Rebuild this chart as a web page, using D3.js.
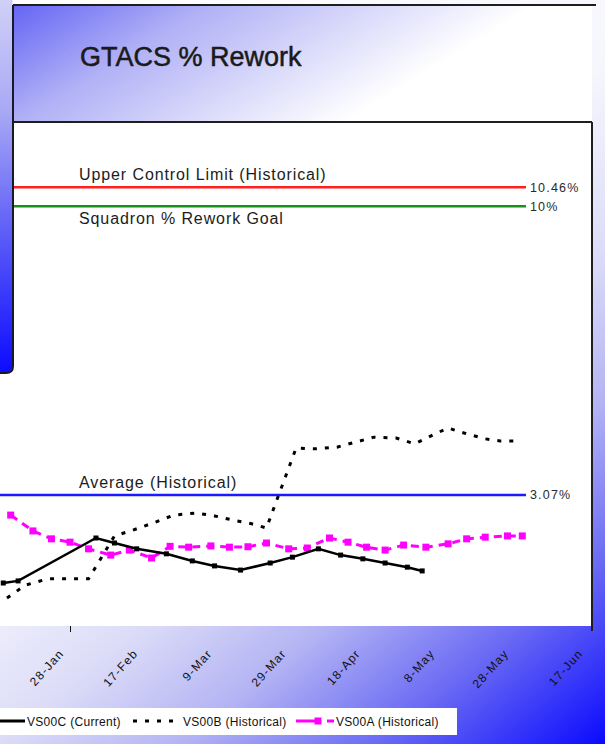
<!DOCTYPE html>
<html>
<head>
<meta charset="utf-8">
<script src="https://cdn.jsdelivr.net/npm/d3@7"></script>
<style>
  html, body { margin: 0; padding: 0; background: #fff; }
  svg { display: block; }
  text { font-family: "Liberation Sans", Arial, sans-serif; }
</style>
</head>
<body>
<svg id="chart" width="605" height="744"></svg>
<script>
// ---- data ----
const titleText = "GTACS % Rework";

const tickDates  = ["2003-01-28","2003-02-17","2003-03-09","2003-03-29","2003-04-18","2003-05-08","2003-05-28","2003-06-17"];
const tickLabels = ["28-Jan","17-Feb","9-Mar","29-Mar","18-Apr","8-May","28-May","17-Jun"];

const seriesNames = ["VS00C (Current)", "VS00B (Historical)", "VS00A (Historical)"];

const currentDates  = ["2003-01-10","2003-01-14","2003-02-04","2003-02-09","2003-02-15","2003-02-23","2003-03-02","2003-03-08","2003-03-15","2003-03-23","2003-03-29","2003-04-05","2003-04-11","2003-04-17","2003-04-23","2003-04-29","2003-05-03"];
const currentValues = [0.96,1.01,2.04,1.92,1.78,1.66,1.49,1.37,1.27,1.44,1.58,1.78,1.63,1.54,1.44,1.34,1.25];

const histBDates  = ["2003-01-11","2003-01-16","2003-01-22","2003-01-27","2003-02-02","2003-02-09","2003-02-14","2003-02-20","2003-02-25","2003-03-03","2003-03-08","2003-03-13","2003-03-18","2003-03-22","2003-03-30","2003-04-04","2003-04-10","2003-04-15","2003-04-20","2003-04-26","2003-05-01","2003-05-07","2003-05-10","2003-05-15","2003-05-20","2003-05-24","2003-05-28"];
const histBValues = [0.60,0.91,1.06,1.06,1.06,2.09,2.23,2.42,2.59,2.64,2.57,2.47,2.38,2.28,4.20,4.18,4.22,4.34,4.46,4.44,4.30,4.56,4.68,4.54,4.42,4.37,4.37];

const histADates  = ["2003-01-12","2003-01-18","2003-01-23","2003-01-28","2003-02-02","2003-02-08","2003-02-13","2003-02-19","2003-02-24","2003-03-01","2003-03-07","2003-03-12","2003-03-17","2003-03-22","2003-03-28","2003-04-02","2003-04-08","2003-04-13","2003-04-18","2003-04-23","2003-04-28","2003-05-04","2003-05-10","2003-05-15","2003-05-20","2003-05-26","2003-05-30"];
const histAValues = [2.59,2.21,2.02,1.94,1.78,1.63,1.75,1.56,1.84,1.82,1.85,1.82,1.83,1.92,1.78,1.80,2.04,1.94,1.82,1.75,1.87,1.82,1.90,2.02,2.06,2.09,2.09];

const refNames  = ["Upper Control Limit (Historical)", "Squadron % Rework Goal", "Average (Historical)"];
const refValues = [10.46, 10, 3.07];
const refLabels = ["10.46%", "10%", "3.07%"];
const refColors = ["#ff2020", "#149414", "#1a1aff"];
const refSpan   = ["2003-01-06", "2003-05-31"];

// ---- setup ----
const parse = d3.utcParse("%Y-%m-%d");
const svg = d3.select("#chart");
const defs = svg.append("defs");

const x = d3.scaleUtc().domain([parse(tickDates[0]), parse(tickDates[tickDates.length - 1])]).range([70, 589]);
const y = d3.scaleLinear().domain([0, 12]).range([623, 123]);

// gradients
function linGrad(id, attrs, stops) {
  const g = defs.append("linearGradient").attr("id", id).attr("gradientUnits", "userSpaceOnUse");
  Object.entries(attrs).forEach(([k, v]) => g.attr(k, v));
  stops.forEach(([o, c]) => g.append("stop").attr("offset", o).attr("stop-color", c));
}
linGrad("bgGrad", {x1: 0, y1: 0, x2: 605, y2: 744},
  [[0, "#ffffff"], [0.45, "#f6f6fd"], [0.6, "#dcdcf8"], [0.72, "#b4b4f4"], [0.85, "#6a6af4"], [1, "#0a0aff"]]);
linGrad("titleGrad", {x1: 13, y1: 5, x2: 156, y2: 238},
  [[0, "#6565f5"], [0.37, "#b0b0f6"], [1, "#ffffff"]]);
linGrad("stripGrad", {x1: 0, y1: 0, x2: 0, y2: 372},
  [[0, "#d0d0f8"], [0.3, "#a8a8f6"], [0.65, "#5858f8"], [1, "#0c0cff"]]);

// page background
svg.append("rect").attr("width", 605).attr("height", 744).attr("fill", "url(#bgGrad)");

// plot panel
svg.append("rect").attr("x", 0).attr("y", 122).attr("width", 592).attr("height", 504).attr("fill", "#ffffff");

// title panel
svg.append("rect").attr("x", 13).attr("y", 5).attr("width", 579).attr("height", 117).attr("fill", "url(#titleGrad)");
svg.append("text").attr("x", 80).attr("y", 66)
  .attr("font-size", 27).attr("fill", "#1a1a1a")
  .attr("stroke", "#1a1a1a").attr("stroke-width", 0.5)
  .text(titleText);

const frame = svg.append("g").attr("stroke", "#1e1e1e").attr("fill", "none");
frame.append("line").attr("x1", 13).attr("x2", 596).attr("y1", 5).attr("y2", 5).attr("stroke-width", 2);
frame.append("line").attr("x1", 13).attr("x2", 592).attr("y1", 122).attr("y2", 122).attr("stroke-width", 2);
frame.append("line").attr("x1", 592).attr("x2", 592).attr("y1", 122).attr("y2", 631).attr("stroke-width", 2);

// reference lines
const refG = svg.append("g");
refValues.forEach((v, i) => {
  refG.append("line")
    .attr("x1", x(parse(refSpan[0]))).attr("x2", x(parse(refSpan[1])))
    .attr("y1", y(v)).attr("y2", y(v))
    .attr("stroke", refColors[i]).attr("stroke-width", 2.5);
  refG.append("text")
    .attr("x", x(parse(refSpan[1])) + 4).attr("y", y(v)).attr("dy", "0.35em")
    .attr("font-size", 12.5).attr("letter-spacing", 1.2).attr("fill", "#2a2a2a")
    .text(refLabels[i]);
});
const refNameOffsets = [-7, 18, -7];
refNames.forEach((n, i) => {
  refG.append("text")
    .attr("x", 79).attr("y", y(refValues[i]) + refNameOffsets[i])
    .attr("font-size", 16).attr("letter-spacing", 0.9).attr("fill", "#1c1c1c")
    .text(n);
});

// series
const line = d3.line().x(d => x(d.date)).y(d => y(d.value));
function pts(dates, values) { return dates.map((d, i) => ({date: parse(d), value: values[i]})); }

const histB = pts(histBDates, histBValues);
const histA = pts(histADates, histAValues);
const current = pts(currentDates, currentValues);

svg.append("path").datum(histB).attr("d", line)
  .attr("fill", "none").attr("stroke", "#000").attr("stroke-width", 3)
  .attr("stroke-dasharray", "4,8");

svg.append("path").datum(histA).attr("d", line)
  .attr("fill", "none").attr("stroke", "#ff00ff").attr("stroke-width", 3)
  .attr("stroke-dasharray", "8,6");
svg.append("g").selectAll("rect").data(histA).join("rect")
  .attr("x", d => x(d.date) - 3.5).attr("y", d => y(d.value) - 3.5)
  .attr("width", 7).attr("height", 7).attr("fill", "#ff00ff");

svg.append("path").datum(current).attr("d", line)
  .attr("fill", "none").attr("stroke", "#000").attr("stroke-width", 2.5);
svg.append("g").selectAll("rect").data(current).join("rect")
  .attr("x", d => x(d.date) - 2.5).attr("y", d => y(d.value) - 2.5)
  .attr("width", 5).attr("height", 5).attr("fill", "#000");

// left side strip
svg.append("path").attr("d", "M0,0 H12.5 V366 Q12.5,372.5 6,372.5 H0 Z").attr("fill", "url(#stripGrad)");
svg.append("path").attr("d", "M13,5 V366 Q13,373 6,373 H0")
  .attr("fill", "none").attr("stroke", "#1a1a24").attr("stroke-width", 2);

// x axis
const axis = d3.axisBottom(x)
  .tickValues(tickDates.map(parse))
  .tickFormat((d, i) => tickLabels[i])
  .tickSize(6);
const axG = svg.append("g").attr("transform", "translate(0,626)").call(axis);
axG.select(".domain").remove();
axG.selectAll(".tick line").attr("stroke", "#111").filter((d, i) => i > 0).remove();
axG.selectAll(".tick text")
  .attr("x", 0).attr("y", 0).attr("dy", 0)
  .attr("transform", "translate(-6,28) rotate(-48)")
  .attr("text-anchor", "end")
  .attr("font-size", 12).attr("letter-spacing", 1.2)
  .attr("font-family", "Liberation Sans, Arial, sans-serif")
  .attr("fill", "#111");

// legend
const lg = svg.append("g");
lg.append("rect").attr("x", 0).attr("y", 708).attr("width", 457).attr("height", 27).attr("fill", "#ffffff");
const ly = 721;
lg.append("line").attr("x1", 0).attr("x2", 25).attr("y1", ly).attr("y2", ly)
  .attr("stroke", "#000").attr("stroke-width", 3);
lg.append("line").attr("x1", 133).attr("x2", 181).attr("y1", ly).attr("y2", ly)
  .attr("stroke", "#000").attr("stroke-width", 3).attr("stroke-dasharray", "4,8");
lg.append("line").attr("x1", 296).attr("x2", 334).attr("y1", ly).attr("y2", ly)
  .attr("stroke", "#ff00ff").attr("stroke-width", 3).attr("stroke-dasharray", "25,6");
lg.append("rect").attr("x", 314.5).attr("y", ly - 3.5).attr("width", 7).attr("height", 7).attr("fill", "#ff00ff");
const legendX = [27, 183, 336];
seriesNames.forEach((n, i) => {
  lg.append("text").attr("x", legendX[i]).attr("y", ly + 4.5)
    .attr("font-size", 12).attr("letter-spacing", 0.3).attr("fill", "#111").text(n);
});
</script>
</body>
</html>
